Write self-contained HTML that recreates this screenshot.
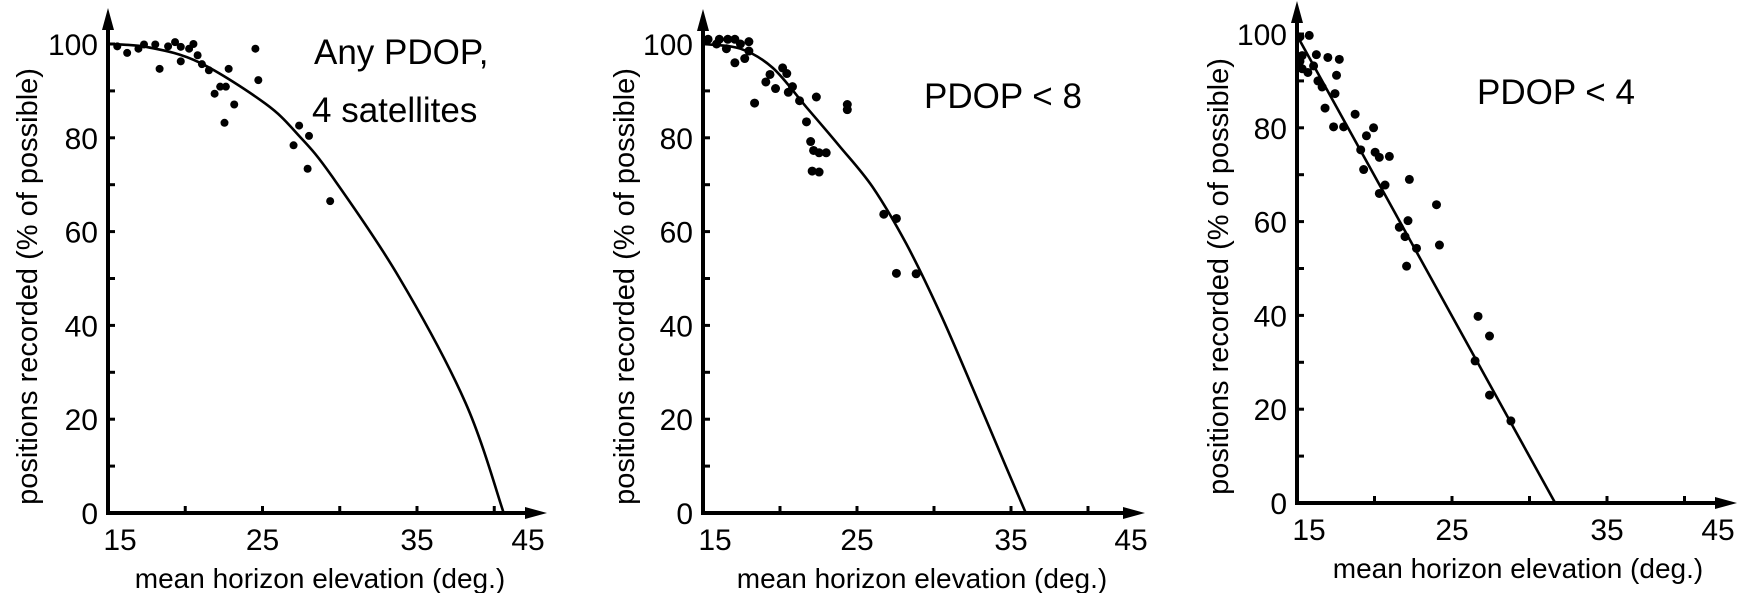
<!DOCTYPE html>
<html><head><meta charset="utf-8">
<style>
html,body{margin:0;padding:0;background:#fff;}
svg{display:block;}
text{font-family:"Liberation Sans",sans-serif;fill:#000;}
</style></head>
<body>
<svg id="chart" width="1740" height="593" viewBox="0 0 1740 593" xmlns="http://www.w3.org/2000/svg"></svg>
<script>
const xTicks = [15, 25, 35];
const xMinor = [20, 30, 40];
const yTicks = [0, 20, 40, 60, 80, 100];
const yMinor = [10, 30, 50, 70, 90];

const p1CurveX = [15, 17.61, 20.89, 25.18, 27.37, 29.47, 33.85, 38.14, 40.61];
const p1CurveY = [100, 99.3, 96.1, 87.3, 80.4, 71.9, 50.2, 23.5, 0];
const p1DotX = [15.6,16.24,16.97,17.33,18.06,18.34,18.89,19.34,19.71,19.71,20.25,20.53,20.8,21.08,21.53,21.9,22.26,22.63,22.81,22.54,23.17,24.54,24.73,27.01,27.37,28.01,27.92,29.38];
const p1DotY = [99.5,98.1,99,99.9,99.9,94.7,99.5,100.4,99.4,96.3,99,100,97.6,95.7,94.4,89.4,90.9,90.9,94.7,83.2,87.1,99,92.3,78.4,82.6,80.4,73.4,66.5];

const p2CurveX = [15, 17.43, 19.53, 21.72, 23.82, 26.01, 28.2, 30.36, 32.49, 34.68, 35.96];
const p2CurveY = [100, 99, 94.9, 86.5, 78.4, 69.5, 57.4, 42.9, 26.8, 9.8, 0];
const p2DotX = [15.33,15.88,16.06,16.52,16.61,17.07,17.07,17.43,17.98,17.98,17.71,18.35,19.08,19.35,19.71,20.17,20.44,20.54,20.81,21.27,21.72,22.36,21.99,22.18,22.54,23.0,22.09,22.54,24.37,24.37,26.74,27.56,27.56,28.84];
const p2DotY = [101,100,101,99,101,101,96,100,100.5,98.5,96.9,87.4,91.9,93.5,90.5,94.9,93.7,89.7,90.9,87.9,83.4,88.7,79.2,77.3,76.8,76.8,72.9,72.7,87.1,86,63.7,62.8,51.1,51];

const p3CurveX = [14.95, 31.66];
const p3CurveY = [100, 0];
const p3DotX = [15.19,15.79,15.19,15.33,15.33,15.70,16.07,16.25,16.35,16.62,16.81,16.99,17.45,17.55,17.73,17.36,18.01,18.75,19.11,19.3,19.48,19.94,20.04,20.31,20.31,20.68,20.96,21.6,21.97,22.07,22.16,22.25,22.71,24.0,24.19,26.68,26.49,27.42,27.42,28.8];
const p3DotY = [99.4,99.7,94.2,92.6,95.4,91.8,93.2,95.6,90,88.7,84.2,95,87.3,91.2,94.6,80.2,80.2,82.9,75.3,71.1,78.3,80,74.8,73.7,66,67.8,73.9,58.8,56.8,50.5,60.2,69,54.3,63.6,55,39.8,30.3,35.6,23,17.5];

const NS = "http://www.w3.org/2000/svg";
const svg = document.getElementById('chart');
function mk(tag, attrs, parent){
  const e = document.createElementNS(NS, tag);
  for (const k in attrs) e.setAttribute(k, attrs[k]);
  (parent || svg).appendChild(e);
  return e;
}

const panels = [
  {x15:108, sx:15.45, y0:513, y100:44, top:8, ylabX:27, xEnd:547, lab45:528, titleX:320, cx:p1CurveX, cy:p1CurveY, dx:p1DotX, dy:p1DotY, r:4,
   notes:[['Any PDOP,',314,64],['4 satellites',312,122]]},
  {x15:703, sx:15.4, y0:513, y100:44, top:9, ylabX:624, xEnd:1145, lab45:1131, titleX:922, cx:p2CurveX, cy:p2CurveY, dx:p2DotX, dy:p2DotY, r:4.5,
   notes:[['PDOP < 8',924,108]]},
  {x15:1297, sx:15.5, y0:503, y100:34, top:1, ylabX:1218, xEnd:1737, lab45:1718, titleX:1518, cx:p3CurveX, cy:p3CurveY, dx:p3DotX, dy:p3DotY, r:4.5,
   notes:[['PDOP < 4',1477,104]]}
];

function smoothPath(pts){
  if (pts.length < 3) return 'M' + pts.map(p => p[0].toFixed(1)+','+p[1].toFixed(1)).join(' L');
  let d = 'M' + pts[0][0].toFixed(1) + ',' + pts[0][1].toFixed(1);
  for (let i = 0; i < pts.length - 1; i++){
    const p0 = pts[i-1] || pts[i], p1 = pts[i], p2 = pts[i+1], p3 = pts[i+2] || pts[i+1];
    const c1x = p1[0] + (p2[0]-p0[0])/6, c1y = p1[1] + (p2[1]-p0[1])/6;
    const c2x = p2[0] - (p3[0]-p1[0])/6, c2y = p2[1] - (p3[1]-p1[1])/6;
    d += ` C${c1x.toFixed(1)},${c1y.toFixed(1)} ${c2x.toFixed(1)},${c2y.toFixed(1)} ${p2[0].toFixed(1)},${p2[1].toFixed(1)}`;
  }
  return d;
}

panels.forEach(function(p, i){
  const g = mk('g', {});
  
  
  const X = v => p.x15 + (v - 15) * p.sx;
  const Y = v => p.y0 + (p.y100 - p.y0) * v / 100;
  const xEnd = p.xEnd;

  const ya = mk('line', {x1:p.x15, y1:p.y0+2, x2:p.x15, y2:p.top+18, stroke:'#000','stroke-width':4}, g);
  
  
  const yh = mk('polygon', {points:`${p.x15-6},${p.top+22} ${p.x15+6},${p.top+22} ${p.x15},${p.top}`, fill:'#000'}, g);
  
  
  const xa = mk('line', {x1:p.x15-2, y1:p.y0, x2:xEnd-16, y2:p.y0, stroke:'#000','stroke-width':4}, g);
  
  
  const xh = mk('polygon', {points:`${xEnd-22},${p.y0-6} ${xEnd-22},${p.y0+6} ${xEnd},${p.y0}`, fill:'#000'}, g);
  
  

  yTicks.forEach(function(v){
    const t = mk('line', {x1:p.x15, y1:Y(v), x2:p.x15+7, y2:Y(v), stroke:'#000','stroke-width':3}, g);
    
    
    const l = mk('text', {x:p.x15-10, y:Y(v)+11, 'text-anchor':'end', 'font-size':30}, g);
    l.textContent = v;
    
    
  });
  yMinor.forEach(function(v){
    const t = mk('line', {x1:p.x15, y1:Y(v), x2:p.x15+7, y2:Y(v), stroke:'#000','stroke-width':3}, g);
    
    
  });
  xTicks.forEach(function(v){
    if (v > 15) {
      const t = mk('line', {x1:X(v), y1:p.y0, x2:X(v), y2:p.y0-7, stroke:'#000','stroke-width':3}, g);
      
      
    }
    const l = mk('text', {x:X(v)+(v===15?12:0), y:p.y0+37, 'text-anchor':'middle', 'font-size':30}, g);
    l.textContent = v;
    
    
  });
  const l45 = mk('text', {x:p.lab45, y:p.y0+37, 'text-anchor':'middle', 'font-size':30}, g);
  l45.textContent = '45';
  
  
  xMinor.forEach(function(v){
    const t = mk('line', {x1:X(v), y1:p.y0, x2:X(v), y2:p.y0-7, stroke:'#000','stroke-width':3}, g);
    
    
  });

  const xt = mk('text', {x:p.titleX, y:p.y0+75, 'text-anchor':'middle', 'font-size':28}, g);
  xt.textContent = 'mean horizon elevation (deg.)';
  
  
  const ymid = (p.y0 + p.y100)/2 + 8;
  const yt = mk('text', {x:p.ylabX+10, y:ymid, 'text-anchor':'middle', 'font-size':29, transform:`rotate(-90 ${p.ylabX+10} ${ymid})`}, g);
  yt.textContent = 'positions recorded (% of possible)';
  
  

  const pts = p.cx.map((v, k) => [X(v), Y(p.cy[k])]);
  const c = mk('path', {d:smoothPath(pts), fill:'none', stroke:'#000', 'stroke-width':2.6, 'stroke-linejoin':'round'}, g);
  
  

  p.dx.forEach(function(v, k){
    const dot = mk('circle', {cx:X(v), cy:Y(p.dy[k]), r:p.r, fill:'#000'}, g);
    
    
  });

  p.notes.forEach(function(n){
    const t = mk('text', {x:n[1], y:n[2], 'font-size':35}, g);
    t.textContent = n[0];
    
    
  });
});
</script>
</body></html>
